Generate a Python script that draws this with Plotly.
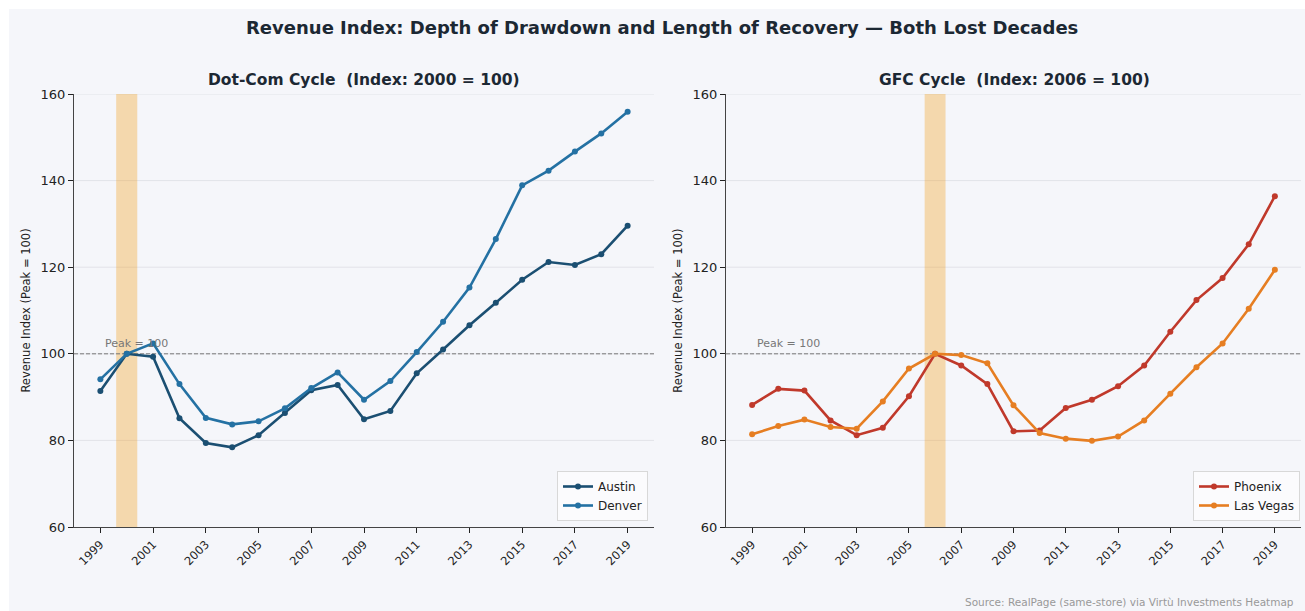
import plotly.graph_objects as go

years = list(range(1999, 2020))

austin = [91.4, 100.0, 99.3, 85.1, 79.4, 78.4, 81.2, 86.3, 91.6, 92.8, 84.9, 86.8,
          95.5, 101.0, 106.6, 111.8, 117.1, 121.2, 120.5, 123.0, 129.6]
denver = [94.1, 100.0, 102.4, 93.0, 85.2, 83.7, 84.4, 87.4, 92.1, 95.7, 89.4, 93.7,
          100.4, 107.4, 115.3, 126.5, 138.9, 142.3, 146.7, 150.9, 155.9]
phoenix = [88.2, 91.9, 91.5, 84.6, 81.2, 82.9, 90.2, 100.0, 97.3, 93.0, 82.1, 82.3,
           87.5, 89.4, 92.5, 97.3, 105.1, 112.4, 117.5, 125.3, 136.4]
las_vegas = [81.4, 83.3, 84.8, 83.1, 82.7, 89.0, 96.6, 100.0, 99.7, 97.8, 88.1, 81.7,
             80.4, 79.9, 80.9, 84.6, 90.8, 96.9, 102.4, 110.4, 119.4]

x_ticks = list(range(1999, 2020, 2))
y_ticks = [60, 80, 100, 120, 140, 160]

title_main = "Revenue Index: Depth of Drawdown and Length of Recovery \u2014 Both Lost Decades"
title_left = "Dot-Com Cycle  (Index: 2000 = 100)"
title_right = "GFC Cycle  (Index: 2006 = 100)"
y_title = "Revenue Index (Peak = 100)"
source_text = "Source: RealPage (same-store) via Virt\u00f9 Investments Heatmap"

peak_left = (1999.6, 2000.4)
peak_right = (2005.6, 2006.4)

BG = "#f5f6fa"
FONT = "DejaVu Sans"
DARK = "#222222"

C_AUSTIN = "#1b4f72"
C_DENVER = "#2471a3"
C_PHX = "#c0392b"
C_LV = "#e67e22"

fig = go.Figure()

def add_line(x, y, name, color, xa, ya, legend):
    fig.add_trace(go.Scatter(
        x=x, y=y, name=name, mode="lines+markers",
        line=dict(color=color, width=2.6),
        marker=dict(color=color, size=6),
        xaxis=xa, yaxis=ya, legend=legend,
    ))

add_line(years, austin, "Austin", C_AUSTIN, "x", "y", "legend")
add_line(years, denver, "Denver", C_DENVER, "x", "y", "legend")
add_line(years, phoenix, "Phoenix", C_PHX, "x2", "y2", "legend2")
add_line(years, las_vegas, "Las Vegas", C_LV, "x2", "y2", "legend2")

L, R, T, B = 74, 4, 94, 84
W, H = 1305, 611
pw = W - L - R
ph = H - T - B

def px_x(p):
    return (p - L) / pw

def px_y(p):
    return (H - B - p) / ph

dom_left = [0.0, px_x(654)]
dom_right = [px_x(726), 1.0]

xaxis_common = dict(
    range=[1998, 2020], tickvals=x_ticks, ticktext=[str(v) for v in x_ticks],
    tickangle=-45, ticks="outside", ticklen=5, tickcolor=DARK, tickwidth=1,
    showline=True, linecolor="#444444", linewidth=1.3, showgrid=False,
    zeroline=False, tickfont=dict(size=11.5, color=DARK, family=FONT),
)
yaxis_common = dict(
    range=[60, 160], tickvals=y_ticks, ticks="outside", ticklen=5, tickcolor=DARK,
    showline=True, linecolor="#444444", linewidth=1.3, showgrid=False,
    zeroline=False,
    tickfont=dict(size=13, color=DARK, family=FONT),
    title=dict(text=y_title, font=dict(size=11.5, color=DARK, family=FONT), standoff=7),
)

shapes = [
    dict(type="rect", xref="paper", yref="paper",
         x0=px_x(9), x1=px_x(W + 5), y0=px_y(9), y1=px_y(H + 5),
         fillcolor=BG, line=dict(width=0), layer="below"),
]
# horizontal grid lines (from the y tick values)
for xr, yr in [("x domain", "y"), ("x2 domain", "y2")]:
    for v in y_ticks[1:]:
        shapes.append(dict(type="line", xref=xr, yref=yr, x0=0, x1=1, y0=v, y1=v,
                           line=dict(color="#e2e3e8", width=1), layer="below"))
for xr, yr, band in [("x", "y domain", peak_left), ("x2", "y2 domain", peak_right)]:
    shapes.append(dict(type="rect", xref=xr, yref=yr, x0=band[0], x1=band[1], y0=0, y1=1,
                       fillcolor="rgba(243,156,18,0.33)", line=dict(width=0), layer="below"))
for xr, yr in [("x domain", "y"), ("x2 domain", "y2")]:
    shapes.append(dict(type="line", xref=xr, yref=yr, x0=0, x1=1, y0=100, y1=100,
                       line=dict(color="#7a7a7a", width=1, dash="4px,2px"), layer="below"))

annotations = [
    dict(text="<b>" + title_main + "</b>", xref="paper", yref="paper",
         x=px_x(662), y=px_y(27), xanchor="center", yanchor="middle", showarrow=False,
         font=dict(size=18, color="#1c2833", family=FONT)),
    dict(text="<b>" + title_left + "</b>", xref="paper", yref="paper",
         x=px_x(364), y=px_y(80), xanchor="center", yanchor="middle", showarrow=False,
         font=dict(size=15.5, color="#1c2833", family=FONT)),
    dict(text="<b>" + title_right + "</b>", xref="paper", yref="paper",
         x=px_x(1014), y=px_y(80), xanchor="center", yanchor="middle", showarrow=False,
         font=dict(size=15.5, color="#1c2833", family=FONT)),
    dict(text="Peak = 100", xref="x", yref="y", x=1999.1, y=100.4, xanchor="left",
         yanchor="bottom", showarrow=False, font=dict(size=11, color="#777777", family=FONT)),
    dict(text="Peak = 100", xref="x2", yref="y2", x=1999.1, y=100.4, xanchor="left",
         yanchor="bottom", showarrow=False, font=dict(size=11, color="#777777", family=FONT)),
    dict(text=source_text, xref="paper", yref="paper", x=px_x(1296), y=px_y(602),
         xanchor="right", yanchor="middle", showarrow=False,
         font=dict(size=10.5, color="#999999", family=FONT)),
]

legend_common = dict(
    xanchor="right", yanchor="bottom", bgcolor="rgba(255,255,255,0.6)",
    bordercolor="#d8d8d8", borderwidth=1, font=dict(size=12, color=DARK, family=FONT),
    tracegroupgap=0, itemwidth=30,
)

fig.update_layout(
    width=W, height=H,
    margin=dict(l=L, r=R, t=T, b=B),
    paper_bgcolor="white", plot_bgcolor=BG,
    font=dict(family=FONT, color=DARK),
    showlegend=True,
    xaxis=dict(domain=dom_left, anchor="y", **xaxis_common),
    yaxis=dict(domain=[0, 1], anchor="x", **yaxis_common),
    xaxis2=dict(domain=dom_right, anchor="y2", **xaxis_common),
    yaxis2=dict(domain=[0, 1], anchor="x2", **yaxis_common),
    legend=dict(x=px_x(648), y=px_y(521), **legend_common),
    legend2=dict(x=px_x(1300), y=px_y(521), **legend_common),
    shapes=shapes,
    annotations=annotations,
)

fig.write_html("out.html")
